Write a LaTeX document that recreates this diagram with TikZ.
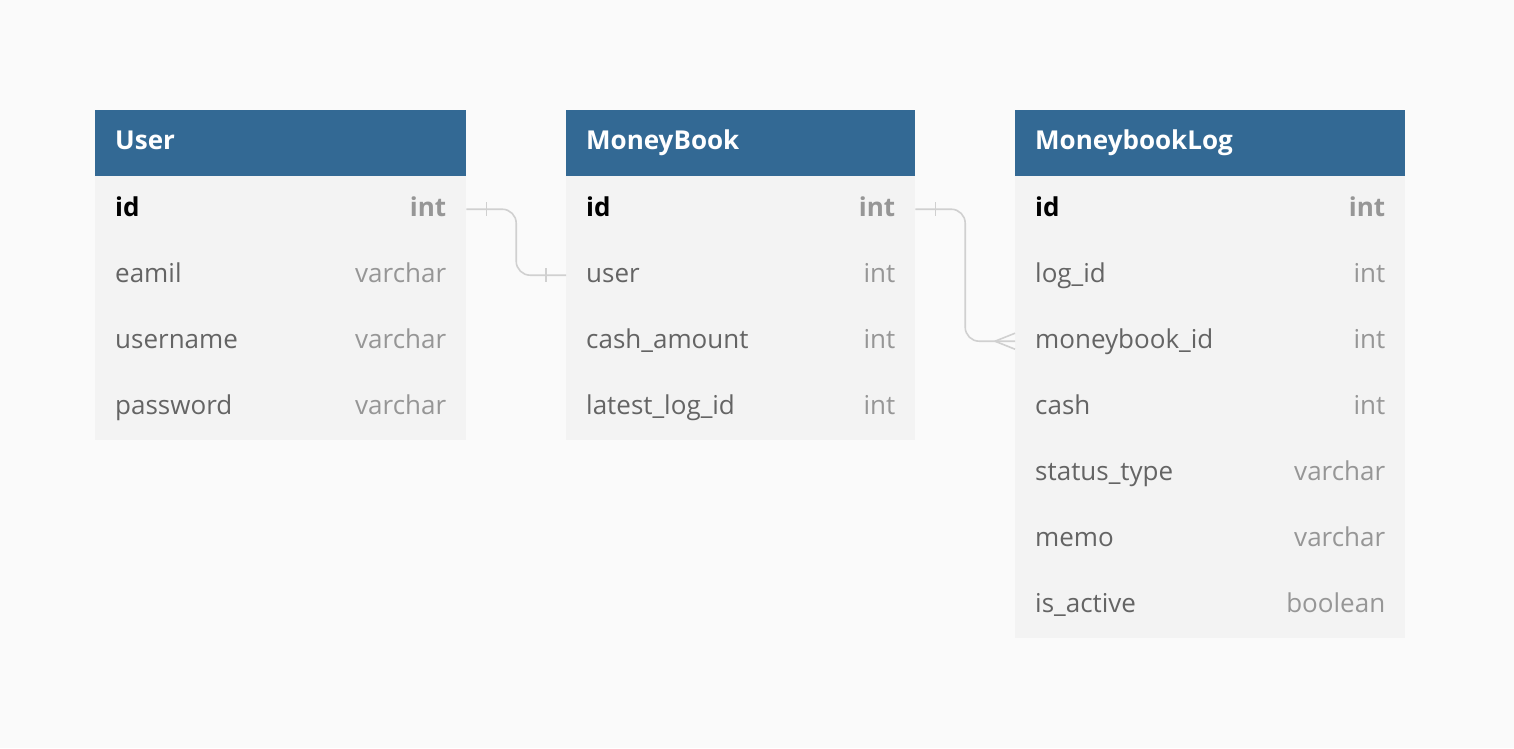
\documentclass[tikz,border=0pt]{standalone}
\usepackage{fontspec}
\setmainfont{Open Sans}
\usetikzlibrary{calc}
\definecolor{bgc}{HTML}{FAFAFA}
\definecolor{hdr}{HTML}{336994}
\definecolor{rowc}{HTML}{F3F3F3}
\definecolor{namec}{HTML}{646464}
\definecolor{typec}{HTML}{969696}
\definecolor{linec}{HTML}{D0D0D0}
\tikzset{
  hdrbox/.style={draw=none,fill=hdr,anchor=north west,minimum height=66pt,inner sep=0pt},
  rowbox/.style={draw=none,fill=rowc,anchor=north west,minimum height=66pt,inner sep=0pt},
  hdrtext/.style={anchor=base west,inner sep=0pt,text=white,font=\fontsize{26}{30}\selectfont\bfseries},
  nametext/.style={anchor=base west,inner sep=0pt,text=namec,font=\fontsize{26}{30}\selectfont},
  typetext/.style={anchor=base east,inner sep=0pt,text=typec,font=\fontsize{26}{30}\selectfont},
  pkname/.style={nametext,text=black,font=\fontsize{26}{30}\selectfont\bfseries},
  pktype/.style={typetext,font=\fontsize{26}{30}\selectfont\bfseries},
  conn/.style={draw=linec,line width=1.6pt,rounded corners=14pt},
  tick/.style={draw=linec,line width=1.6pt}
}
\newcommand{\mktable}[5]{% prefix, x, width, title, list name/type
  \node[hdrbox,minimum width=#3pt] (#1-h) at (#2,110) {};
  \node[hdrtext] (#1-title) at ($(#1-h.north west)+(20,39)$) {#4};
  \foreach \n/\t/\k [count=\i] in {#5} {
    \node[rowbox,minimum width=#3pt] (#1-\k) at (#2,{110+66*\i}) {};
    \ifnum\i=1
      \node[pkname] (#1-\k-n) at ($(#1-\k.north west)+(20,40)$) {\n};
      \node[pktype] (#1-\k-t) at ($(#1-\k.north east)+(-20,40)$) {\t};
    \else
      \node[nametext] (#1-\k-n) at ($(#1-\k.north west)+(20,40)$) {\n};
      \node[typetext] (#1-\k-t) at ($(#1-\k.north east)+(-20,40)$) {\t};
    \fi
  }
}
\begin{document}
\begin{tikzpicture}[x=1pt,y=-1pt]
\fill[bgc] (0,0) rectangle (1514,748);
\useasboundingbox (0,0) rectangle (1514,748);
\mktable{u}{95}{371}{User}{id/int/id,eamil/varchar/eamil,username/varchar/username,password/varchar/password}
\mktable{mb}{566}{349}{MoneyBook}{id/int/id,user/int/user,cash\_amount/int/cash,latest\_log\_id/int/latest}
\mktable{ml}{1015}{390}{MoneybookLog}{id/int/id,log\_id/int/logid,moneybook\_id/int/mbid,cash/int/cash,status\_type/varchar/status,memo/varchar/memo,is\_active/boolean/active}
% connectors
\draw[conn] (u-id.east) -| ($(u-id.east)!0.5!(mb-user.west)$) |- (mb-user.west);
\draw[tick] ($(u-id.east)+(20,-7)$) -- ($(u-id.east)+(20,7)$);
\draw[tick] ($(mb-user.west)+(-20,-7)$) -- ($(mb-user.west)+(-20,7)$);
\draw[conn] (mb-id.east) -| ($(mb-id.east)!0.5!(ml-mbid.west)$) |- (ml-mbid.west);
\draw[tick] ($(mb-id.east)+(20,-7)$) -- ($(mb-id.east)+(20,7)$);
\draw[tick] ($(ml-mbid.west)+(-20,0)$) -- ($(ml-mbid.west)+(0,-8)$);
\draw[tick] ($(ml-mbid.west)+(-20,0)$) -- ($(ml-mbid.west)+(0,8)$);
\end{tikzpicture}
\end{document}
